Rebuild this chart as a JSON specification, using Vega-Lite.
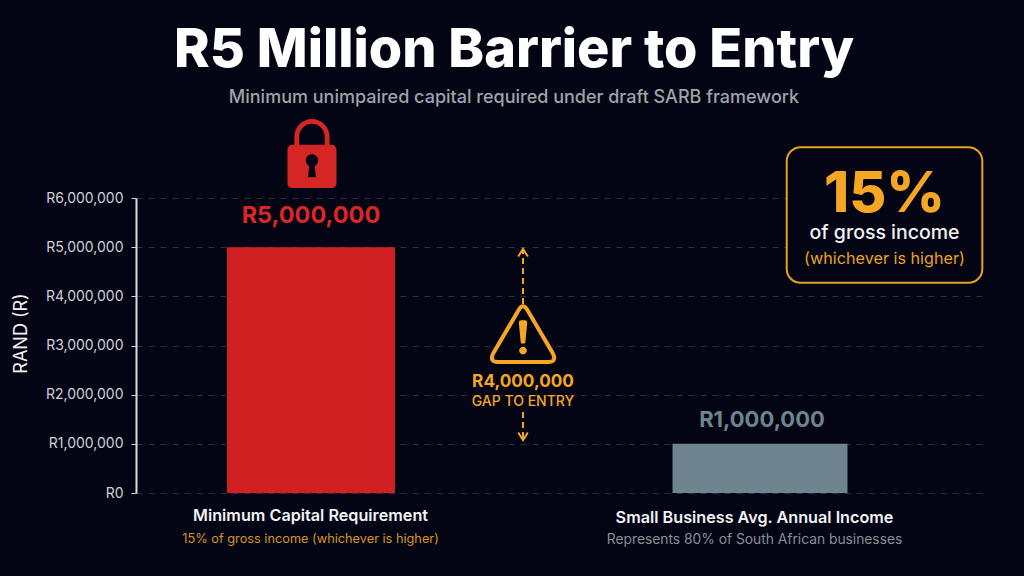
{
"$schema":"https://vega.github.io/schema/vega-lite/v6.json",
"autosize":"none",
"width":848,"height":295,
"padding":{"left":136,"top":198,"right":40,"bottom":83},
"background":"#030514",
"config":{"view":{"stroke":null},"font":"Inter","text":{"font":"Inter"}},
"title":{"text":"R5 Million Barrier to Entry","subtitle":"Minimum unimpaired capital required under draft SARB framework","anchor":"middle","dx":-46,"offset":12,"font":"Inter","fontSize":54,"fontWeight":800,"color":"#ffffff","subtitleFont":"Inter","subtitleFontSize":18,"subtitleFontWeight":500,"subtitleColor":"#a0a3a9","subtitlePadding":11},
"data":{"values":[
{"category":"Minimum Capital Requirement","amount":5000000,"label":"R5,000,000"},
{"category":"Small Business Avg. Annual Income","amount":1000000,"label":"R1,000,000"}
]},
"resolve":{"scale":{"x":"independent"}},
"encoding":{
"y":{"field":"amount","type":"quantitative","scale":{"domain":[0,6000000],"nice":false,"zero":false},
"axis":{"title":"RAND (R)","titleColor":"#f0f1f3","titleFont":"Inter","titleFontSize":18,"titleFontWeight":400,"titleX":-106,"titleY":135,"labelColor":"#cfd2d6","labelFont":"Inter","labelFontSize":14,"labelPadding":8,"labelExpr":"'R'+format(datum.value,',')","tickCount":7,"tickColor":"#cfd2d6","tickSize":5,"domainColor":"#d8dadd","domainWidth":2,"gridColor":"#2a3040","gridDash":[6,6],"gridWidth":1,"grid":true}}
},
"layer":[
{"mark":{"type":"bar","orient":"vertical","clip":false},
 "encoding":{
 "x":{"field":"category","type":"nominal","sort":null,"scale":{"type":"point","domain":["Minimum Capital Requirement","Small Business Avg. Annual Income"],"padding":0.4443,"align":0.4386},"axis":null},
 "size":{"field":"category","type":"nominal","scale":{"domain":["Minimum Capital Requirement","Small Business Avg. Annual Income"],"range":[168,175]},"legend":null},
 "color":{"field":"category","type":"nominal","scale":{"domain":["Minimum Capital Requirement","Small Business Avg. Annual Income"],"range":["#d02022","#6e848f"]},"legend":null}}},
{"transform":[{"filter":"datum.amount>2000000"}],
 "mark":{"type":"text","font":"Inter","fontWeight":700,"fontSize":23.5,"color":"#dc2626","dy":-31},
 "encoding":{"x":{"field":"category","type":"nominal","scale":{"type":"point","domain":["Minimum Capital Requirement","Small Business Avg. Annual Income"],"padding":0.4443,"align":0.4386},"axis":null},"text":{"field":"label"}}},
{"transform":[{"filter":"datum.amount<2000000"}],
 "mark":{"type":"text","font":"Inter","fontWeight":700,"fontSize":22,"color":"#6e848f","dy":-24,"dx":2},
 "encoding":{"x":{"field":"category","type":"nominal","scale":{"type":"point","domain":["Minimum Capital Requirement","Small Business Avg. Annual Income"],"padding":0.4443,"align":0.4386},"axis":null},"text":{"field":"label"}}},
{"data":{"values":[{"a":0}]},"mark":{"type":"rule","color":"#e2e4e6","strokeWidth":2,"clip":false},"encoding":{"y":{"datum":0}}},
{"data":{"values":[{"note":"Lock","pos":0.2075,"amount":6905090}]},
 "mark":{"type":"point","filled":true,"clip":false,"opacity":1,"strokeWidth":0,"fill":"#d62525","size":4761,"shape":"M-0.51,-0.2 V-0.49 A0.51,0.51 0 0 1 0.51,-0.49 V-0.2 H0.37 V-0.49 A0.37,0.37 0 0 0 -0.37,-0.49 V-0.2 Z M-0.57,-0.25 H0.57 A0.14,0.14 0 0 1 0.71,-0.11 V0.86 A0.14,0.14 0 0 1 0.57,1 H-0.57 A0.14,0.14 0 0 1 -0.71,0.86 V-0.11 A0.14,0.14 0 0 1 -0.57,-0.25 Z M-0.08,0.36 L-0.115,0.69 H0.115 L0.08,0.36 A0.18,0.18 0 1 0 -0.08,0.36 Z"},
 "encoding":{"x":{"field":"pos","type":"quantitative","scale":{"domain":[0,1],"nice":false},"axis":null}}},
{"data":{"values":[{"note":"Gap label mask","pos":0.454,"amount":2033900}]},
 "mark":{"type":"point","filled":true,"clip":false,"opacity":1,"strokeWidth":0,"fill":"#030514","size":17956,"shape":"M-1,-0.02 H1 V0.02 H-1 Z"},
 "encoding":{"x":{"field":"pos","type":"quantitative","scale":{"domain":[0,1],"nice":false},"axis":null}}},
{"data":{"values":[{"pos":0.4564,"amount":3844070,"end":4942380},{"pos":0.4564,"amount":1647460,"end":1098300}]},
 "mark":{"type":"rule","color":"#f5a623","strokeWidth":2,"strokeDash":[6,4],"clip":false},
 "encoding":{"x":{"field":"pos","type":"quantitative","scale":{"domain":[0,1],"nice":false},"axis":null},"y2":{"field":"end"}}},
{"data":{"values":[{"note":"Arrow head up","pos":0.4564,"amount":4881360}]},
 "mark":{"type":"point","filled":false,"clip":false,"opacity":1,"stroke":"#f5a623","strokeWidth":2,"size":144,"shape":"M-0.8,0.6 L0,-0.7 L0.8,0.6"},
 "encoding":{"x":{"field":"pos","type":"quantitative","scale":{"domain":[0,1],"nice":false},"axis":null}}},
{"data":{"values":[{"note":"Arrow head down","pos":0.4564,"amount":1159320}]},
 "mark":{"type":"point","filled":false,"clip":false,"opacity":1,"stroke":"#f5a623","strokeWidth":2,"size":144,"shape":"M-0.8,-0.6 L0,0.7 L0.8,-0.6"},
 "encoding":{"x":{"field":"pos","type":"quantitative","scale":{"domain":[0,1],"nice":false},"axis":null}}},
{"data":{"values":[{"note":"Warning triangle","pos":0.4564,"amount":3233900}]},
 "mark":{"type":"point","filled":true,"clip":false,"opacity":1,"fill":"#030514","stroke":"#f5a623","strokeWidth":4,"size":4225,"shape":"M-0.12,-0.76 Q0,-0.95 0.12,-0.76 L0.92,0.6 Q1.04,0.86 0.78,0.86 H-0.78 Q-1.04,0.86 -0.92,0.6 Z"},
 "encoding":{"x":{"field":"pos","type":"quantitative","scale":{"domain":[0,1],"nice":false},"axis":null}}},
{"data":{"values":[{"note":"Warning mark","pos":0.4564,"amount":3233900}]},
 "mark":{"type":"point","filled":true,"clip":false,"opacity":1,"fill":"#f5a623","strokeWidth":0,"size":4225,"shape":"M-0.13,-0.35 Q-0.13,-0.42 -0.06,-0.42 H0.06 Q0.13,-0.42 0.13,-0.35 L0.07,0.26 Q0.07,0.29 0.04,0.29 H-0.04 Q-0.07,0.29 -0.07,0.26 Z M-0.12,0.51 A0.12,0.12 0 1 0 0.12,0.51 A0.12,0.12 0 1 0 -0.12,0.51 Z"},
 "encoding":{"x":{"field":"pos","type":"quantitative","scale":{"domain":[0,1],"nice":false},"axis":null}}},
{"data":{"values":[{"note":"Callout box","pos":0.8827,"amount":5654242}]},
 "mark":{"type":"point","filled":true,"clip":false,"opacity":1,"fill":"#030514","stroke":"#e9a21f","strokeWidth":2,"size":38250,"shape":"M-0.857,-0.694 H0.857 A0.143,0.143 0 0 1 1,-0.551 V0.551 A0.143,0.143 0 0 1 0.857,0.694 H-0.857 A0.143,0.143 0 0 1 -1,0.551 V-0.551 A0.143,0.143 0 0 1 -0.857,-0.694 Z"},
 "encoding":{"x":{"field":"pos","type":"quantitative","scale":{"domain":[0,1],"nice":false},"axis":null}}},
{"data":{"values":[{"text":"R4,000,000","pos":0.4564,"amount":2257630}]},
 "mark":{"type":"text","clip":false,"font":"Inter","fontWeight":700,"fontSize":17.2,"color":"#f5a623"},
 "encoding":{"x":{"field":"pos","type":"quantitative","scale":{"domain":[0,1],"nice":false},"axis":null},"text":{"field":"text"}}},
{"data":{"values":[{"text":"GAP TO ENTRY","pos":0.4564,"amount":1850850}]},
 "mark":{"type":"text","clip":false,"font":"Inter","fontWeight":500,"fontSize":14,"color":"#f5a623"},
 "encoding":{"x":{"field":"pos","type":"quantitative","scale":{"domain":[0,1],"nice":false},"axis":null},"text":{"field":"text"}}},
{"data":{"values":[{"text":"15%","pos":0.8827,"amount":6061000}]},
 "mark":{"type":"text","clip":false,"font":"Inter","fontWeight":800,"fontSize":57,"color":"#f5a623"},
 "encoding":{"x":{"field":"pos","type":"quantitative","scale":{"domain":[0,1],"nice":false},"axis":null},"text":{"field":"text"}}},
{"data":{"values":[{"text":"of gross income","pos":0.8827,"amount":5288140}]},
 "mark":{"type":"text","clip":false,"font":"Inter","fontWeight":500,"fontSize":19.5,"color":"#f2f3f5"},
 "encoding":{"x":{"field":"pos","type":"quantitative","scale":{"domain":[0,1],"nice":false},"axis":null},"text":{"field":"text"}}},
{"data":{"values":[{"text":"(whichever is higher)","pos":0.8827,"amount":4759326}]},
 "mark":{"type":"text","clip":false,"font":"Inter","fontWeight":400,"fontSize":16.2,"color":"#e9a21f"},
 "encoding":{"x":{"field":"pos","type":"quantitative","scale":{"domain":[0,1],"nice":false},"axis":null},"text":{"field":"text"}}},
{"data":{"values":[{"text":"Minimum Capital Requirement","pos":0.2058,"amount":-467797},{"text":"Small Business Avg. Annual Income","pos":0.7294,"amount":-508475}]},
 "mark":{"type":"text","clip":false,"font":"Inter","fontWeight":600,"fontSize":16.2,"color":"#f2f3f5"},
 "encoding":{"x":{"field":"pos","type":"quantitative","scale":{"domain":[0,1],"nice":false},"axis":null},"text":{"field":"text"}}},
{"data":{"values":[{"text":"15% of gross income (whichever is higher)","pos":0.2058,"amount":-935594}]},
 "mark":{"type":"text","clip":false,"font":"Inter","fontWeight":400,"fontSize":12.75,"color":"#d8951a"},
 "encoding":{"x":{"field":"pos","type":"quantitative","scale":{"domain":[0,1],"nice":false},"axis":null},"text":{"field":"text"}}},
{"data":{"values":[{"text":"Represents 80% of South African businesses","pos":0.7294,"amount":-955933}]},
 "mark":{"type":"text","clip":false,"font":"Inter","fontWeight":400,"fontSize":13.8,"color":"#8b8e94"},
 "encoding":{"x":{"field":"pos","type":"quantitative","scale":{"domain":[0,1],"nice":false},"axis":null},"text":{"field":"text"}}}
]
}
